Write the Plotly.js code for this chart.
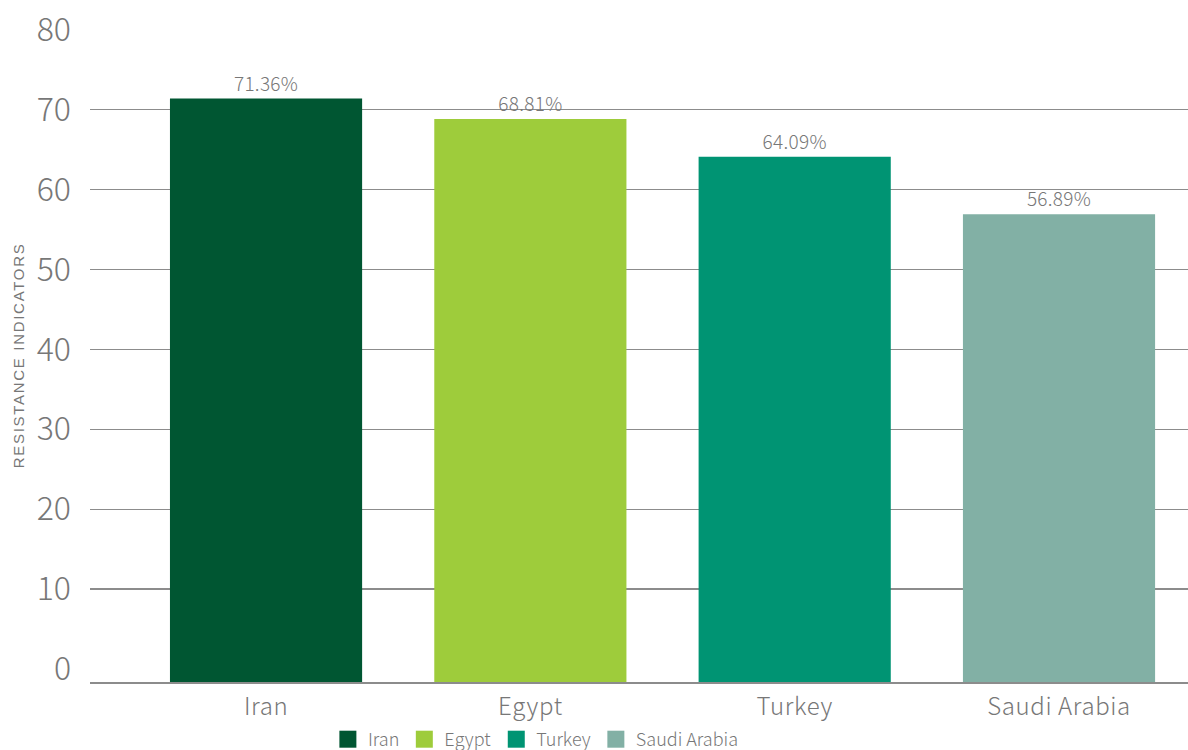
<!DOCTYPE html>
<html>
<head>
<meta charset="utf-8">
<script src="https://cdn.plot.ly/plotly-3.0.1.min.js"></script>
<style>
html,body{margin:0;padding:0;background:#fff;}
#chart{width:1188px;height:750px;}
#chart .annotation-text{letter-spacing:1.7px;}
#chart .xtick text{letter-spacing:0.6px;}
#chart .bartext{letter-spacing:0.3px;}
#chart .legend .legendpoints path{d:path("M8.5,8.5H-8.5V-8.5H8.5Z");}
</style>
</head>
<body>
<div id="chart"></div>
<script>
const countries = ["Iran", "Egypt", "Turkey", "Saudi Arabia"];
const resistance = [71.36, 68.81, 64.09, 56.89];
const barColors = ["#005632", "#9ECC3B", "#009473", "#82B0A5"];
const yTicks = [0, 10, 20, 30, 40, 50, 60, 70, 80];
const yTitle = "RESISTANCE INDICATORS";
const yFloor = -1.6;
const yTop = 80.05;

const traces = countries.map((c, i) => ({
  type: "bar",
  name: c,
  x: [c],
  y: [resistance[i] - yFloor],
  base: [yFloor],
  width: 0.727,
  marker: {color: barColors[i]},
  text: [resistance[i].toFixed(2) + "%"],
  textposition: "outside",
  cliponaxis: false,
  textfont: {family: "Noto Sans CJK JP", size: 19, weight: 300, color: "#777777"},
  hoverinfo: "skip"
}));
// invisible trace carrying the grid axis (no gridline at 0, as in the reference)
traces.push({type: "scatter", x: [countries[0]], y: [0], yaxis: "y2", mode: "markers",
  marker: {opacity: 0}, showlegend: false, hoverinfo: "skip"});

const layout = {
  width: 1188, height: 750,
  margin: {l: 90, r: 0, t: 29, b: 68},
  paper_bgcolor: "#ffffff", plot_bgcolor: "rgba(0,0,0,0)",
  barmode: "overlay",
  font: {family: "Noto Sans CJK JP", color: "#777777"},
  xaxis: {
    type: "category", categoryorder: "array", categoryarray: countries,
    range: [-0.666, 3.488], automargin: false,
    showgrid: false, zeroline: false,
    showline: true, linecolor: "#8c8c8c", linewidth: 1.5,
    ticks: "", tickfont: {family: "Noto Sans CJK JP", size: 24, weight: 300, color: "#777777"},
    ticklabelstandoff: 3
  },
  yaxis: {
    range: [yFloor, yTop], tickvals: yTicks, ticktext: yTicks.map(String),
    showgrid: false, zeroline: false, showline: false, ticks: "", automargin: false,
    tickfont: {family: "Noto Sans CJK JP", size: 32, weight: 300, color: "#777777"},
    ticklabelstandoff: 18
  },
  yaxis2: {
    overlaying: "y", range: [yFloor, yTop], tickvals: yTicks.slice(1),
    showgrid: true, gridcolor: "#8c8c8c", gridwidth: 1.5,
    showticklabels: false, zeroline: false, ticks: "", layer: "below traces"
  },
  annotations: [{
    text: yTitle, textangle: -90, showarrow: false,
    xref: "paper", x: -0.0647, xanchor: "center",
    yref: "paper", y: 0.5, yanchor: "middle",
    font: {family: "Liberation Sans", size: 15, color: "#777777"}
  }],
  showlegend: true,
  legend: {
    orientation: "h", xref: "container", x: 0.276, xanchor: "left",
    yref: "container", y: 0.014, yanchor: "middle",
    font: {family: "Noto Sans CJK JP", size: 18, weight: 300, color: "#777777"},
    itemclick: false, tracegroupgap: 0, traceorder: "normal"
  }
};

Plotly.newPlot("chart", traces, layout, {displayModeBar: false, staticPlot: true});
</script>
</body>
</html>
